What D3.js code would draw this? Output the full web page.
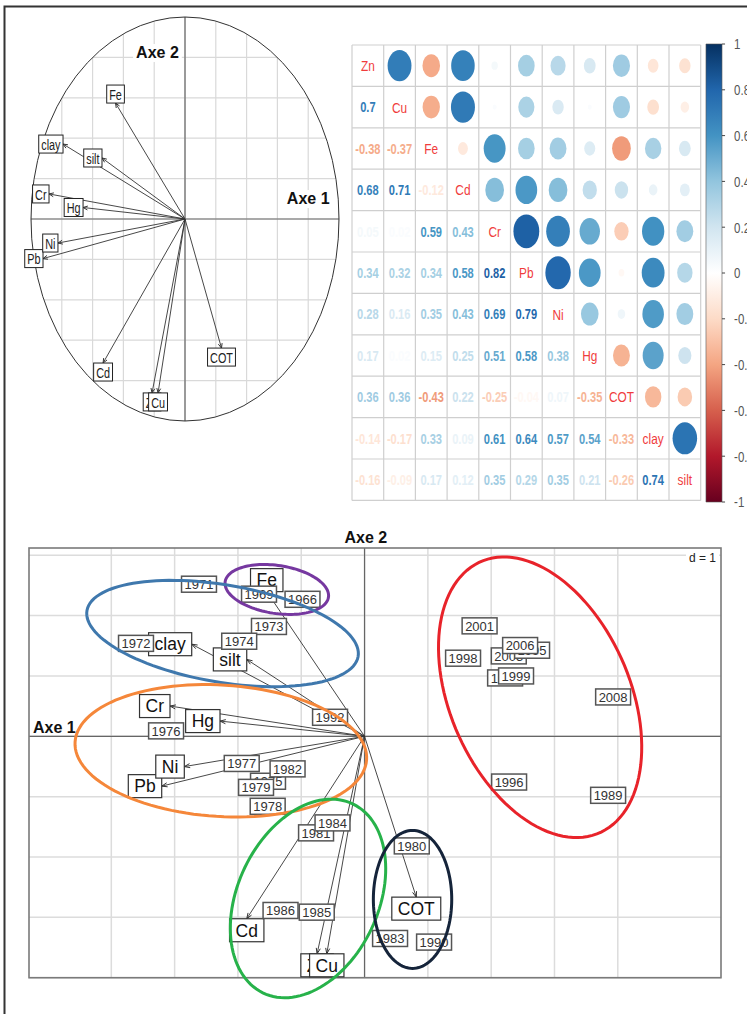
<!DOCTYPE html>
<html><head><meta charset="utf-8">
<script src="https://cdn.jsdelivr.net/npm/d3@7"></script>
<style>
body{margin:0;background:#fff}
svg{display:block}
text{font-family:"Liberation Sans",Arial,Helvetica,sans-serif}
</style>
</head><body>
<svg id="c" width="747" height="1014"></svg>
<script>
// ================= DATA =================
// Correlation circle (top-left): variable loadings on axes 1 and 2
const circVars = ["Zn","Cu","Fe","Cd","Cr","Pb","Ni","Hg","COT","clay","silt"];
const circX = [-0.214,-0.175,-0.451,-0.532,-0.883,-0.922,-0.825,-0.662,0.237,-0.792,-0.539];
const circY = [-0.861,-0.861,0.574,-0.713,0.124,-0.196,-0.119,0.057,-0.639,0.371,0.302];
const circGrid = [-1,-0.8,-0.6,-0.4,-0.2,0,0.2,0.4,0.6,0.8,1];

// Correlation matrix (lower triangle rows)
const corrVars = ["Zn","Cu","Fe","Cd","Cr","Pb","Ni","Hg","COT","clay","silt"];
const corZn   = [];
const corCu   = [0.7];
const corFe   = [-0.38,-0.37];
const corCd   = [0.68,0.71,-0.12];
const corCr   = [0.05,0.02,0.59,0.43];
const corPb   = [0.34,0.32,0.34,0.58,0.82];
const corNi   = [0.28,0.16,0.35,0.43,0.69,0.79];
const corHg   = [0.17,0.02,0.15,0.25,0.51,0.58,0.38];
const corCOT  = [0.36,0.36,-0.43,0.22,-0.25,-0.04,0.07,-0.35];
const corClay = [-0.14,-0.17,0.33,0.09,0.61,0.64,0.57,0.54,-0.33];
const corSilt = [-0.16,-0.09,0.17,0.12,0.35,0.29,0.35,0.21,-0.26,0.74];
const legendTicks = [1,0.8,0.6,0.4,0.2,0,-0.2,-0.4,-0.6,-0.8,-1];
const palette = ["#67001F","#B2182B","#D6604D","#F4A582","#FDDBC7","#FFFFFF","#D1E5F0","#92C5DE","#4393C3","#2166AC","#053061"];

// Biplot (bottom): variable arrows
const bipVars = ["Zn","Cu","Fe","Cd","Cr","Pb","Ni","Hg","COT","clay","silt"];
const bipX = [-0.750,-0.597,-1.545,-1.861,-3.073,-3.204,-2.847,-2.283,0.817,-2.730,-1.861];
const bipY = [-3.604,-3.604,2.397,-3.023,0.501,-0.826,-0.502,0.252,-2.665,1.526,1.274];
// Biplot: years (row scores)
const years = ["1966","1969","1971","1972","1973","1974","1976","1992","1977","1975","1979","1982","1978","1981","1984","1980","1986","1985","1983","1990","2001","1998","2003","1995","2006","1997","1999","2008","1996","1989"];
const yearX = [-0.98,-1.667,-2.615,-3.61,-1.51,-1.98,-3.135,-0.545,-1.94,-1.525,-1.714,-1.216,-1.53,-0.766,-0.506,0.746,-1.327,-0.755,0.403,1.098,1.817,1.556,2.278,2.646,2.457,2.22,2.393,3.926,2.283,3.847];
const yearY = [2.27,2.355,2.52,1.54,1.82,1.575,0.09,0.315,-0.45,-0.745,-0.846,-0.54,-1.16,-1.60,-1.435,-1.816,-2.886,-2.914,-3.35,-3.41,1.83,1.294,1.332,1.426,1.504,0.967,1.0,0.652,-0.758,-0.978];
const bipGridX = [-4,-3,-2,-1,0,1,2,3,4];
const bipGridY = [-4,-3,-2,-1,0,1,2,3];
// Biplot: group ellipses
const groupColors = ["#7638a0","#3f78ad","#f5873a","#27b24a","#15243a","#e8232a"];
const ellCX = [-1.386,-2.243,-2.270,-0.893,0.758,2.773];
const ellCY = [2.433,1.703,-0.240,-2.687,-2.703,0.647];
const ellA  = [0.826,2.175,2.307,1.72,1.143,2.435];
const ellB  = [0.397,0.805,1.089,1.12,0.619,1.432];
const ellAngle = [-9.2,-10.2,-3.7,67.4,90,111.6];

// ================= DRAW =================
const svg = d3.select("#c");

function arrowHead(g, x0, y0, x1, y1, len, ang, col) {
  const a = Math.atan2(y1 - y0, x1 - x0);
  const p1 = [x1 - len * Math.cos(a - ang), y1 - len * Math.sin(a - ang)];
  const p2 = [x1 - len * Math.cos(a + ang), y1 - len * Math.sin(a + ang)];
  g.append("path").attr("d", `M${p1[0]},${p1[1]}L${x1},${y1}L${p2[0]},${p2[1]}`)
    .attr("fill", "none").attr("stroke", col).attr("stroke-width", 1);
}
function measure(txt, size, weight) {
  const t = svg.append("text").attr("font-size", size).attr("font-weight", weight || "normal").text(txt);
  const w = t.node().getComputedTextLength();
  t.remove();
  return w;
}
// ade4-like label placement (scatterutil.eti.circ)
function placeBox(dx, dy, tx, ty, w, h) {
  if (dx > dy && dx > -dy) return [tx + w / 2, ty];
  if (dx > dy && dx <= -dy) return [tx, ty + h / 2];
  if (dx <= dy && dx <= -dy) return [tx - w / 2, ty];
  return [tx, ty - h / 2];
}

// ---------- outer frame ----------
svg.append("path").attr("d", "M4.5,1014V6.5H747").attr("fill", "none").attr("stroke", "#333").attr("stroke-width", 2);

// ---------- Panel A: correlation circle ----------
{
  const xA = d3.scaleLinear().domain([-1, 1]).range([31, 339]);
  const yA = d3.scaleLinear().domain([-1, 1]).range([421, 17]);
  const g = svg.append("g");
  const cx = xA(0), cy = yA(0), rx = xA(1) - xA(0), ry = yA(-1) - yA(0);
  svg.append("defs").append("clipPath").attr("id", "circClip")
    .append("ellipse").attr("cx", cx).attr("cy", cy).attr("rx", rx).attr("ry", ry);
  const gg = g.append("g").attr("clip-path", "url(#circClip)");
  circGrid.forEach(v => {
    gg.append("line").attr("x1", xA(v)).attr("x2", xA(v)).attr("y1", yA(-1)).attr("y2", yA(1))
      .attr("stroke", "#d9d9d9").attr("stroke-width", 1.2);
    gg.append("line").attr("y1", yA(v)).attr("y2", yA(v)).attr("x1", xA(-1)).attr("x2", xA(1))
      .attr("stroke", "#d9d9d9").attr("stroke-width", 1.2);
  });
  g.append("line").attr("x1", cx).attr("x2", cx).attr("y1", yA(-1)).attr("y2", yA(1)).attr("stroke", "#666").attr("stroke-width", 1.2);
  g.append("line").attr("y1", cy).attr("y2", cy).attr("x1", xA(-1)).attr("x2", xA(1)).attr("stroke", "#666").attr("stroke-width", 1.2);
  g.append("ellipse").attr("cx", cx).attr("cy", cy).attr("rx", rx).attr("ry", ry)
    .attr("fill", "none").attr("stroke", "#333").attr("stroke-width", 1);

  // axis labels with white background
  [["Axe 2", xA(-0.179), yA(0.797)], ["Axe 1", xA(0.80), yA(0.074)]].forEach(([t, x, y]) => {
    const w = measure(t, 16, "bold");
    g.append("rect").attr("x", x - w / 2 - 3).attr("y", y - 14).attr("width", w + 6).attr("height", 18).attr("fill", "#fff");
    g.append("text").attr("x", x).attr("y", y).attr("text-anchor", "middle").attr("font-size", 16)
      .attr("font-weight", "bold").attr("fill", "#111").text(t);
  });

  const sx = 0.7;
  circVars.forEach((v, i) => {
    const tx = xA(circX[i]), ty = yA(circY[i]);
    g.append("line").attr("x1", cx).attr("y1", cy).attr("x2", tx).attr("y2", ty).attr("stroke", "#333").attr("stroke-width", 0.9);
    arrowHead(g, cx, cy, tx, ty, 5, 0.4, "#333");
  });
  circVars.forEach((v, i) => {
    const tx = xA(circX[i]), ty = yA(circY[i]);
    const w = measure(v, 15.5) * sx + 5, h = 18;
    const [bx, by] = placeBox(circX[i], circY[i], tx, ty, w, h);
    g.append("rect").attr("x", bx - w / 2).attr("y", by - h / 2).attr("width", w).attr("height", h)
      .attr("fill", "#fff").attr("stroke", "#222").attr("stroke-width", 1);
    g.append("text").attr("transform", `translate(${bx},${by}) scale(${sx},1)`).attr("dy", "0.36em")
      .attr("text-anchor", "middle").attr("font-size", 15.5).attr("fill", "#222").text(v);
  });
}

// ---------- Panel B: corrplot ----------
{
  const rows = [corZn, corCu, corFe, corCd, corCr, corPb, corNi, corHg, corCOT, corClay, corSilt];
  const n = corrVars.length;
  const M = d3.range(n).map(i => d3.range(n).map(j => i === j ? 1 : (j < i ? rows[i][j] : rows[j][i])));
  const col = d3.scaleLinear().domain(d3.range(11).map(k => -1 + k * 0.2)).range(palette).interpolate(d3.interpolateRgb);
  const cell = 41.4, sx = 0.7657;
  const g = svg.append("g").attr("transform", `translate(352,45) scale(${sx},1)`);
  const pos = d3.scaleBand().domain(d3.range(n)).range([0, n * cell]);

  for (let i = 0; i < n; i++) for (let j = 0; j < n; j++) {
    const x = pos(j) + cell / 2, y = pos(i) + cell / 2, r = M[i][j];
    if (i === j) {
      g.append("text").attr("x", x).attr("y", y).attr("dy", "0.36em").attr("text-anchor", "middle")
        .attr("font-size", 15.5).attr("fill", "#f03c3c").text(corrVars[i]);
    } else if (j > i) {
      const rad = 0.9 * Math.sqrt(Math.abs(r)) / 2 * cell;
      g.append("circle").attr("cx", x).attr("cy", y).attr("r", rad).attr("fill", col(r));
    } else {
      g.append("text").attr("x", x).attr("y", y).attr("dy", "0.36em").attr("text-anchor", "middle")
        .attr("font-size", 14.5).attr("font-weight", "bold").attr("fill", col(r)).text(String(r));
    }
  }
  for (let k = 0; k <= n; k++) {
    g.append("line").attr("x1", k * cell).attr("x2", k * cell).attr("y1", 0).attr("y2", n * cell)
      .attr("stroke", "#cfcfcf").attr("stroke-width", 1.2).attr("vector-effect", "non-scaling-stroke");
    g.append("line").attr("y1", k * cell).attr("y2", k * cell).attr("x1", 0).attr("x2", n * cell)
      .attr("stroke", "#cfcfcf").attr("stroke-width", 1.2).attr("vector-effect", "non-scaling-stroke");
  }
  // colour legend
  const yL = d3.scaleLinear().domain([-1, 1]).range([457, -1]);
  const barX = 462.3, barW = 20.9;
  const grad = svg.select("defs").append("linearGradient").attr("id", "cbar")
    .attr("x1", 0).attr("y1", 1).attr("x2", 0).attr("y2", 0);
  d3.range(0, 1.0001, 0.05).forEach(t => grad.append("stop").attr("offset", t).attr("stop-color", col(-1 + 2 * t)));
  g.append("rect").attr("x", barX).attr("y", yL(1)).attr("width", barW).attr("height", yL(-1) - yL(1))
    .attr("fill", "url(#cbar)").attr("stroke", "#555").attr("stroke-width", 0.6).attr("vector-effect", "non-scaling-stroke");
  legendTicks.forEach(v => {
    g.append("line").attr("x1", barX + barW).attr("x2", barX + barW + 4).attr("y1", yL(v)).attr("y2", yL(v))
      .attr("stroke", "#444").attr("stroke-width", 1).attr("vector-effect", "non-scaling-stroke");
    g.append("text").attr("x", 499).attr("y", yL(v)).attr("dy", "0.36em").attr("font-size", 15)
      .attr("fill", "#555").text(String(v));
  });
}

// ---------- Panel C: biplot ----------
{
  const xB = d3.scaleLinear().domain([-5.3, 5.63]).range([29, 721]);
  const yB = d3.scaleLinear().domain([-4.0, 3.12]).range([977.7, 548]);
  const g = svg.append("g");
  const [x0, x1] = xB.range(), [y0, y1] = yB.range();
  bipGridX.forEach(v => g.append("line").attr("x1", xB(v)).attr("x2", xB(v)).attr("y1", y1).attr("y2", y0)
    .attr("stroke", "#dcdcdc").attr("stroke-width", 1.5));
  bipGridY.forEach(v => g.append("line").attr("y1", yB(v)).attr("y2", yB(v)).attr("x1", x0).attr("x2", x1)
    .attr("stroke", "#dcdcdc").attr("stroke-width", 1.5));
  g.append("line").attr("x1", xB(0)).attr("x2", xB(0)).attr("y1", y1).attr("y2", y0).attr("stroke", "#666").attr("stroke-width", 1.2);
  g.append("line").attr("y1", yB(0)).attr("y2", yB(0)).attr("x1", x0).attr("x2", x1).attr("stroke", "#666").attr("stroke-width", 1.2);
  g.append("rect").attr("x", x0).attr("y", y1).attr("width", x1 - x0).attr("height", y0 - y1)
    .attr("fill", "none").attr("stroke", "#7a7a7a").attr("stroke-width", 1.6);

  const cx = xB(0), cy = yB(0);
  bipVars.forEach((v, i) => {
    const tx = xB(bipX[i]), ty = yB(bipY[i]);
    g.append("line").attr("x1", cx).attr("y1", cy).attr("x2", tx).attr("y2", ty).attr("stroke", "#333").attr("stroke-width", 0.9);
    arrowHead(g, cx, cy, tx, ty, 6, 0.35, "#333");
  });
  bipVars.forEach((v, i) => {
    const tx = xB(bipX[i]), ty = yB(bipY[i]);
    const w = measure(v, 17.5) + 12, h = 23;
    const [bx, by] = placeBox(bipX[i], bipY[i], tx, ty, w, h);
    g.append("rect").attr("x", bx - w / 2).attr("y", by - h / 2).attr("width", w).attr("height", h)
      .attr("fill", "#fff").attr("stroke", "#333").attr("stroke-width", 1.2);
    g.append("text").attr("x", bx).attr("y", by).attr("dy", "0.36em").attr("text-anchor", "middle")
      .attr("font-size", 17.5).attr("fill", "#111").text(v);
  });
  years.forEach((yr, i) => {
    const px = xB(yearX[i]), py = yB(yearY[i]);
    const w = measure(yr, 13) + 6, h = 16;
    g.append("rect").attr("x", px - w / 2).attr("y", py - h / 2).attr("width", w).attr("height", h)
      .attr("fill", "#fff").attr("stroke", "#555").attr("stroke-width", 1.5);
    g.append("text").attr("x", px).attr("y", py).attr("dy", "0.36em").attr("text-anchor", "middle")
      .attr("font-size", 13).attr("fill", "#333").text(yr);
  });
  const ts = d3.range(0, 360, 3).map(d => d * Math.PI / 180);
  const line = d3.line().curve(d3.curveLinearClosed);
  groupColors.forEach((c, k) => {
    const p = ellAngle[k] * Math.PI / 180;
    const pts = ts.map(t => [
      xB(ellCX[k] + ellA[k] * Math.cos(t) * Math.cos(p) - ellB[k] * Math.sin(t) * Math.sin(p)),
      yB(ellCY[k] + ellA[k] * Math.cos(t) * Math.sin(p) + ellB[k] * Math.sin(t) * Math.cos(p))
    ]);
    g.append("path").attr("d", line(pts)).attr("fill", "none").attr("stroke", c).attr("stroke-width", 3);
  });
  // d = 1
  const dw = measure("d = 1", 12);
  g.append("rect").attr("x", x1 - 5 - dw - 3).attr("y", y1 + 2).attr("width", dw + 6).attr("height", 16).attr("fill", "#fff");
  g.append("text").attr("x", x1 - 5).attr("y", y1 + 14).attr("text-anchor", "end").attr("font-size", 12).attr("fill", "#222").text("d = 1");
  // axis titles
  g.append("text").attr("x", xB(0.02)).attr("y", y1 - 5).attr("text-anchor", "middle").attr("font-size", 16)
    .attr("font-weight", "bold").attr("fill", "#111").text("Axe 2");
  g.append("text").attr("x", x0 + 4).attr("y", cy - 3).attr("font-size", 16)
    .attr("font-weight", "bold").attr("fill", "#111").text("Axe 1");
}
</script>
</body></html>
